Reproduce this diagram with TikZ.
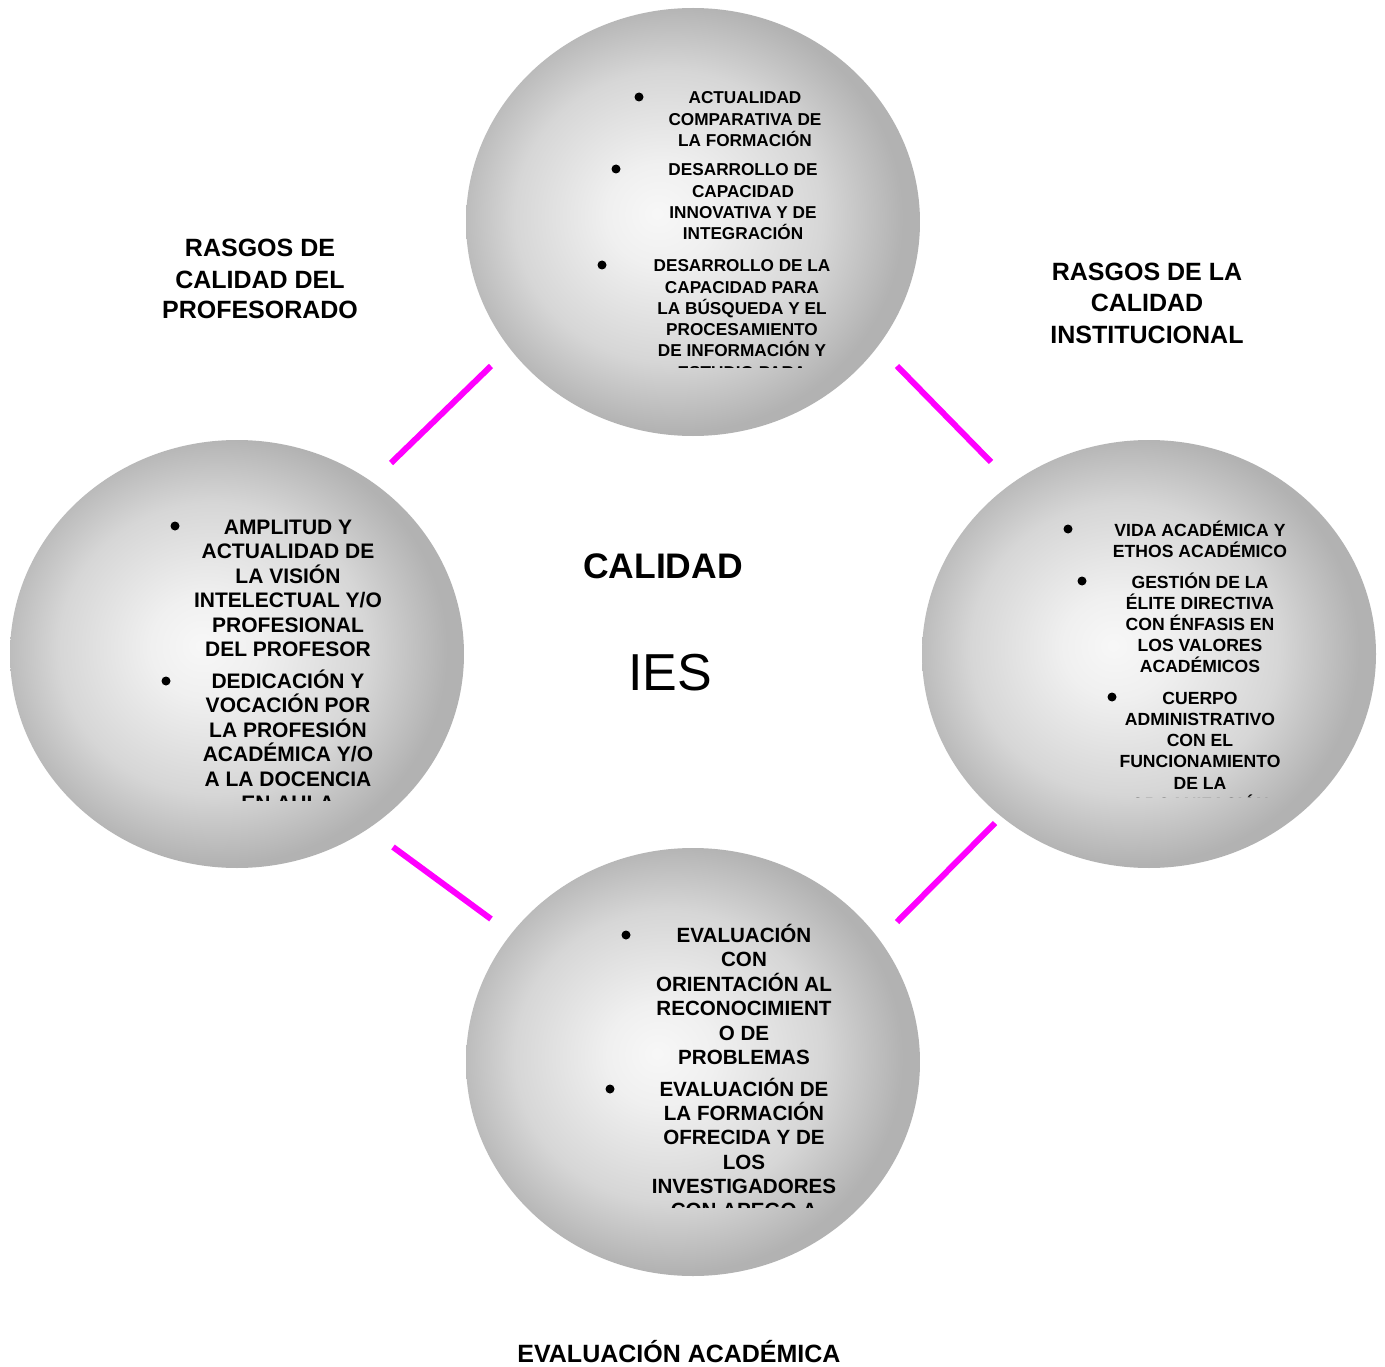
\documentclass[tikz,border=0pt]{standalone}
\usepackage{fontspec}
\setmainfont{Liberation Sans}
\usetikzlibrary{shapes.geometric}
\definecolor{mag}{RGB}{255,0,255}
\pgfdeclareradialshading{sph}{\pgfpoint{-4bp}{1bp}}{color(0bp)=(black!3); color(6bp)=(black!6); color(17bp)=(black!16); color(25bp)=(black!30); color(50bp)=(black!30)}
\tikzset{
  ball/.style={ellipse, minimum width=454pt, minimum height=428pt, inner sep=0pt, shading=sph},
  link/.style={draw=mag, line width=6pt},
  head/.style={font=\bfseries\fontsize{25}{31}\selectfont, anchor=base, inner sep=0pt},
  tA/.style={font=\bfseries\fontsize{17.2}{21}\selectfont, anchor=base, inner sep=0pt},
  tB/.style={font=\bfseries\fontsize{21}{24}\selectfont, anchor=base, inner sep=0pt},
  tC/.style={font=\bfseries\fontsize{17.6}{21}\selectfont, anchor=base, inner sep=0pt},
  tD/.style={font=\bfseries\fontsize{20.6}{24}\selectfont, anchor=base, inner sep=0pt},
  bul/.style={circle, fill=black, inner sep=0pt, minimum size=9pt},
}
\begin{document}
\begin{tikzpicture}[x=1pt,y=-1pt]
\useasboundingbox[fill=white] (0,0) rectangle (1385,1367);
% circles
\node[ball] (ctop) at (693,222) {};
\node[ball] (cleft) at (237,654) {};
\node[ball] (cright) at (1149,654) {};
\node[ball] (cbot) at (693,1062) {};
% connectors
\coordinate (a1) at (391,463); \coordinate (a2) at (491,366);
\coordinate (b1) at (897,366); \coordinate (b2) at (991,462);
\coordinate (c1) at (393,847); \coordinate (c2) at (491,919);
\coordinate (d1) at (897,922); \coordinate (d2) at (995,823);
\draw[link] (a1) -- (a2);
\draw[link] (b1) -- (b2);
\draw[link] (c1) -- (c2);
\draw[link] (d1) -- (d2);
% headings
\node[head] (h1a) at (260,257) {RASGOS DE};
\node[head] (h1b) at (260,289) {CALIDAD DEL};
\node[head] (h1c) at (260,319) {PROFESORADO};
\node[head] (h2a) at (1147,281) {RASGOS DE LA};
\node[head] (h2b) at (1147,312) {CALIDAD};
\node[head] (h2c) at (1147,343) {INSTITUCIONAL};
\node[head] (h3) at (679,1362) {EVALUACIÓN ACADÉMICA};
\node[font=\bfseries\fontsize{35.5}{40}\selectfont, anchor=base, inner sep=0pt] (cal) at (663,578) {CALIDAD};
\node[font=\fontsize{52}{60}\selectfont, anchor=base, inner sep=0pt] (ies) at (670,690.6) {IES};
% top circle text
\begin{scope}
\clip (450,60) rectangle (940,367);
\node[bul] (bt1) at (639,97) {};
\node[bul] (bt2) at (616,169) {};
\node[bul] (bt3) at (602,265) {};
\foreach \t [count=\k] in {ACTUALIDAD,COMPARATIVA DE,LA FORMACIÓN}
  \node[tA] (ta\k) at ({745},{104+21.3*(\k-1)}) {\t};
\foreach \t [count=\k] in {DESARROLLO DE,CAPACIDAD,INNOVATIVA Y DE,INTEGRACIÓN}
  \node[tA] (tb\k) at ({743},{176+21.3*(\k-1)}) {\t};
\foreach \t [count=\k] in {DESARROLLO DE LA,CAPACIDAD PARA,LA BÚSQUEDA Y EL,PROCESAMIENTO,DE INFORMACIÓN Y,ESTUDIO PARA}
  \node[tA] (tc\k) at ({742},{272+21.2*(\k-1)}) {\t};
\end{scope}
% left circle text
\begin{scope}
\clip (0,490) rectangle (470,800);
\node[bul] (bl1) at (175,526) {};
\node[bul] (bl2) at (166,681) {};
\foreach \t [count=\k] in {AMPLITUD Y,ACTUALIDAD DE,LA VISIÓN,INTELECTUAL Y/O,PROFESIONAL,DEL PROFESOR}
  \node[tB] (la\k) at ({288},{534.5+24.4*(\k-1)}) {\t};
\foreach \t [count=\k] in {DEDICACIÓN Y,VOCACIÓN POR,LA PROFESIÓN,ACADÉMICA Y/O,A LA DOCENCIA,EN AULA}
  \node[tB] (lb\k) at ({288},{688.5+24.4*(\k-1)}) {\t};
\end{scope}
% right circle text
\begin{scope}
\clip (920,490) rectangle (1385,797);
\node[bul] (br1) at (1068,529) {};
\node[bul] (br2) at (1082,581) {};
\node[bul] (br3) at (1112,697) {};
\foreach \t [count=\k] in {VIDA ACADÉMICA Y,ETHOS ACADÉMICO}
  \node[tC] (ra\k) at ({1200},{536.3+20.8*(\k-1)}) {\t};
\foreach \t [count=\k] in {GESTIÓN DE LA,ÉLITE DIRECTIVA,CON ÉNFASIS EN,LOS VALORES,ACADÉMICOS}
  \node[tC] (rb\k) at ({1200},{588.3+21*(\k-1)}) {\t};
\foreach \t [count=\k] in {CUERPO,ADMINISTRATIVO,CON EL,FUNCIONAMIENTO,DE LA,ORGANIZACIÓN}
  \node[tC] (rc\k) at ({1200},{704.3+21.2*(\k-1)}) {\t};
\end{scope}
% bottom circle text
\begin{scope}
\clip (450,900) rectangle (940,1207);
\node[bul] (bb1) at (626,935) {};
\node[bul] (bb2) at (610,1089) {};
\foreach \t [count=\k] in {EVALUACIÓN,CON,ORIENTACIÓN AL,RECONOCIMIENT,O DE,PROBLEMAS}
  \node[tD] (ba\k) at ({744},{942.4+24.4*(\k-1)}) {\t};
\foreach \t [count=\k] in {EVALUACIÓN DE,LA FORMACIÓN,OFRECIDA Y DE,LOS,INVESTIGADORES,CON APEGO A}
  \node[tD] (bc\k) at ({744},{1096.4+24.2*(\k-1)}) {\t};
\end{scope}
\end{tikzpicture}
\end{document}
